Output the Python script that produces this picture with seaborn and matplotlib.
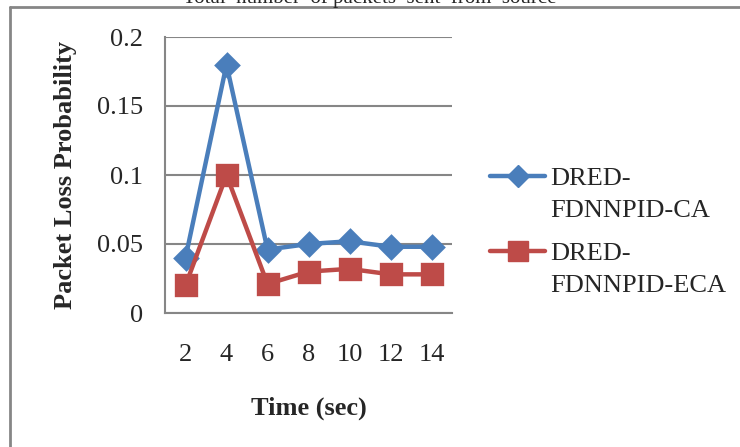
import matplotlib
matplotlib.use("Agg")
import matplotlib.pyplot as plt
import seaborn as sns
import pandas as pd
from matplotlib.lines import Line2D

# === Daten ===
zeit = ["2", "4", "6", "8", "10", "12", "14"]
ca_werte = [0.040, 0.180, 0.046, 0.050, 0.052, 0.048, 0.048]
eca_werte = [0.020, 0.100, 0.021, 0.030, 0.032, 0.028, 0.028]
serien = ["DRED-FDNNPID-CA", "DRED-FDNNPID-ECA"]
farben = ["#4A7EBB", "#BE4B48"]
marker = ["D", "s"]
marker_groesse = [11, 14]
y_ticks = [0, 0.05, 0.1, 0.15, 0.2]
y_tick_labels = ["0", "0.05", "0.1", "0.15", "0.2"]

df = pd.DataFrame({
    "Zeit": zeit * 2,
    "Wert": ca_werte + eca_werte,
    "Serie": [serien[0]] * len(zeit) + [serien[1]] * len(zeit),
})

sns.set_style("white")
plt.rcParams["font.family"] = ["Liberation Serif", "DejaVu Serif"]

fig = plt.figure(figsize=(7.4, 4.47), dpi=100)
ax = fig.add_axes([165 / 740, 1 - 313 / 447, (452 - 165) / 740, (313 - 37) / 447])

grau = "#868686"
for s, f, m, g in zip(serien, farben, marker, marker_groesse):
    teil = df[df["Serie"] == s]
    sns.pointplot(
        data=teil, x="Zeit", y="Wert", order=zeit, color=f, marker=m,
        markersize=g, linewidth=3.2, ax=ax, errorbar=None,
    )
if ax.get_legend() is not None:
    ax.get_legend().remove()

ax.set_xlim(-0.5, len(zeit) - 0.5)
ax.set_ylim(0, 0.2)
ax.set_yticks(y_ticks)
ax.set_yticklabels(y_tick_labels)
ax.set_xticks(range(len(zeit)))
ax.set_xticklabels(zeit)
ax.set_xticks([i - 0.5 for i in range(len(zeit) + 1)], minor=True)
ax.tick_params(axis="x", which="major", length=0, labelsize=19, pad=22)
ax.tick_params(axis="x", which="minor", length=5, width=1.1, color=grau, direction="out")
ax.tick_params(axis="y", length=6, width=1.1, color=grau, labelsize=19, pad=10, direction="out")

ax.yaxis.grid(True, color=grau, linewidth=1.5)
ax.xaxis.grid(False)
ax.set_axisbelow(True)
for sp in ["top", "right"]:
    ax.spines[sp].set_visible(False)
for sp in ["left", "bottom"]:
    ax.spines[sp].set_color(grau)
    ax.spines[sp].set_linewidth(1.5)
    ax.spines[sp].set_zorder(1)

ax.set_xlabel("Time (sec)", fontsize=19, fontweight="bold", labelpad=22)
ax.set_ylabel("Packet Loss Probability", fontsize=19, fontweight="bold", labelpad=14)

# Legende: Griff auf Höhe der ersten Zeile, zweite Zeile ohne Griff
leer = Line2D([0], [0], color="none")
for i, (s, f, m, g) in enumerate(zip(serien, farben, marker, marker_groesse)):
    griff = Line2D([0], [0], color=f, marker=m, linewidth=3.2, markersize=g)
    teil1, teil2 = s.split("-", 1)
    leg = fig.legend([griff, leer], [teil1 + "-", teil2], loc="upper left",
                     bbox_to_anchor=(490 / 740, 1 - (167 + i * 75) / 447),
                     frameon=False, fontsize=19, handlelength=2.1, handletextpad=0.2,
                     labelspacing=0.32, borderpad=0, borderaxespad=0)

# Rahmen und abgeschnittener Titel
fig.add_artist(Line2D([10 / 740, 1], [1 - 7 / 447, 1 - 7 / 447], color=grau, linewidth=2))
fig.add_artist(Line2D([10 / 740, 10 / 740], [0, 1 - 7 / 447], color=grau, linewidth=2))
fig.text(370 / 740, 1 - 3 / 447, "Total  number  of packets  sent  from  source",
         ha="center", va="baseline", fontsize=15)

fig.savefig("out.png", dpi=100)
